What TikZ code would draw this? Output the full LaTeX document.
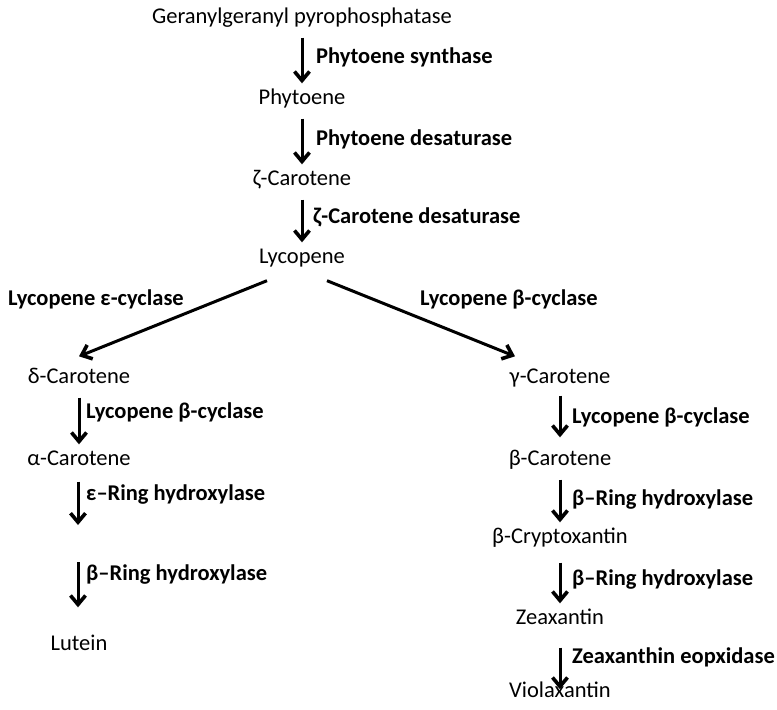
\documentclass[tikz,border=0pt]{standalone}
\usepackage{fontspec}
\setmainfont{Carlito}
\usetikzlibrary{arrows.meta}

\tikzset{
  compound/.style={font=\fontsize{22.5}{26}\selectfont, inner sep=0pt, text height=16pt, text depth=5pt},
  enzyme/.style={compound, font=\fontsize{22.5}{26}\selectfont\bfseries, anchor=west},
  conv/.style={line width=3pt, -{Straight Barb[length=9pt,width=15pt,line width=3.6pt]}, shorten <=9pt, shorten >=5pt},
}

\begin{document}
\begin{tikzpicture}[x=1pt, y=-1pt]
  \useasboundingbox (0,0) rectangle (777,710);

  % Main trunk
  \node[compound] (ggpp) at (302,18) {Geranylgeranyl pyrophosphatase};
  \node[compound] (phyt) at (302,99) {Phytoene};
  \node[compound] (zcar) at (302,180) {ζ-Carotene};
  \node[compound] (lyc) at (302,258) {Lycopene};

  \draw[conv] (ggpp) -- (phyt);
  \draw[conv] (phyt) -- (zcar);
  \draw[conv] (zcar) -- (lyc);

  \node[enzyme] (psy) at (316,58) {Phytoene synthase};
  \node[enzyme] (pds) at (316,140) {Phytoene desaturase};
  \node[enzyme] (zds) at (313,218) {ζ-Carotene desaturase};

  % Branches
  \node[compound] (dcar) at (79,378) {δ-Carotene};
  \node[compound] (gcar) at (560,378) {γ-Carotene};

  \draw[conv, shorten <=0pt, shorten >=0pt] ([xshift=-35pt,yshift=-12pt]lyc.south) -- ([yshift=11pt]dcar.north);
  \draw[conv, shorten <=0pt, shorten >=0pt] ([xshift=25pt,yshift=-12pt]lyc.south) -- ([xshift=-45pt,yshift=11pt]gcar.north);

  \node[enzyme] (lcye) at (8,300) {Lycopene ε-cyclase};
  \node[enzyme] (lcyb) at (420,300) {Lycopene β-cyclase};

  % Left branch
  \node[compound] (acar) at (79,460) {α-Carotene};
  \node[compound] (lut) at (79,645) {Lutein};
  \coordinate (gap1) at (78,525);
  \coordinate (gap2) at (78,562);

  \draw[conv] (dcar) -- (acar);
  \draw[conv, shorten <=11pt, shorten >=0pt] (acar.south -| gap1) -- (gap1);
  \draw[conv, shorten <=0pt, shorten >=27pt] (gap2) -- (gap2 |- lut.north);

  \node[enzyme] (lcyb2) at (86,413) {Lycopene β-cyclase};
  \node[enzyme] (erh) at (86,495) {ε–Ring hydroxylase};
  \node[enzyme] (brh) at (86,575) {β–Ring hydroxylase};

  % Right branch
  \node[compound] (bcar) at (560,460) {β-Carotene};
  \node[compound] (bcry) at (560,538) {β-Cryptoxantin};
  \node[compound] (zea) at (560,619) {Zeaxantin};
  \node[compound] (viol) at (560,692) {Violaxantin};

  \draw[conv, shorten <=7pt, shorten >=12pt] (gcar) -- (bcar);
  \draw[conv] (bcar) -- (bcry);
  \draw[conv, shorten <=14pt] (bcry) -- (zea);
  \draw[conv, shorten <=18pt, shorten >=-8pt] (zea) -- (viol);

  \node[enzyme] (lcyb3) at (572,418) {Lycopene β-cyclase};
  \node[enzyme] (brh2) at (572,500) {β–Ring hydroxylase};
  \node[enzyme] (brh3) at (572,580) {β–Ring hydroxylase};
  \node[enzyme] (zep) at (572,658) {Zeaxanthin eopxidase};
\end{tikzpicture}
\end{document}
